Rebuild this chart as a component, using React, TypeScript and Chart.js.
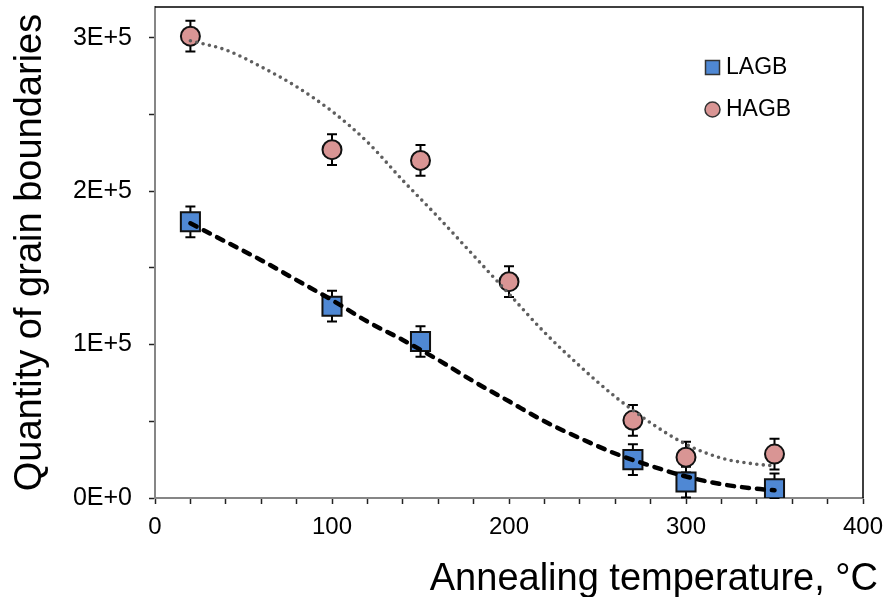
import React, { useEffect, useRef } from "react";
import { Chart, registerables } from "chart.js";

Chart.register(...registerables);

// Measured data
const lagbTemps = [20, 100, 150, 270, 300, 350];
const lagbValues = [180000, 125000, 102000, 25000, 10400, 6000];
const lagbErrors = [10000, 10000, 10000, 10000, 10000, 10000];

const hagbTemps = [20, 100, 150, 200, 270, 300, 350];
const hagbValues = [301000, 227000, 220000, 141000, 50600, 26600, 28600];
const hagbErrors = [10000, 10000, 10000, 10000, 10000, 10000, 10000];

// Trend lines
const trendTemps = [20, 40, 60, 80, 100, 120, 140, 160, 180, 200, 220, 240, 260, 280, 300, 320, 340, 350];
const hagbTrend = [298000, 292000, 281000, 268000, 252000, 232000, 207000, 183000, 158000, 133000, 108000, 86000, 66000, 49000, 35000, 26000, 22000, 21000];
const lagbTrend = [179000, 167000, 155000, 142000, 129000, 115000, 103000, 90000, 76000, 63000, 50000, 39000, 29000, 21000, 14000, 9000, 6000, 5000];

// Ticks (major labelled, minor unlabelled)
const xTickValues = [0, 20, 40, 60, 80, 100, 120, 140, 160, 180, 200, 220, 240, 260, 280, 300, 320, 340, 360, 380, 400];
const xTickLabels: Record<number, string> = { 0: "0", 100: "100", 200: "200", 300: "300", 400: "400" };
const yTickValues = [0, 50000, 100000, 150000, 200000, 250000, 300000];
const yTickLabels: Record<number, string> = { 0: "0E+0", 100000: "1E+5", 200000: "2E+5", 300000: "3E+5" };

const xTitle = "Annealing temperature, °C";
const yTitle = "Quantity of grain boundaries";
const legendLabels = ["LAGB", "HAGB"];

const FONT = '"Liberation Sans", Arial, sans-serif';
const BLUE = "#4F88D4";
const PINK = "#D99594";

export default function App() {
  const ref = useRef<HTMLCanvasElement>(null);

  useEffect(() => {
    if (!ref.current) return;
    Chart.defaults.font.family = FONT;

    const errorBars = {
      id: "errorBars",
      beforeDatasetsDraw(chart: any) {
        const ctx = chart.ctx;
        const xs = chart.scales.x;
        const ys = chart.scales.y;
        const sets = [
          { t: lagbTemps, v: lagbValues, e: lagbErrors },
          { t: hagbTemps, v: hagbValues, e: hagbErrors },
        ];
        ctx.save();
        ctx.strokeStyle = "#000";
        ctx.lineWidth = 2;
        for (const s of sets) {
          s.t.forEach((t, i) => {
            const x = xs.getPixelForValue(t);
            const y1 = ys.getPixelForValue(s.v[i] + s.e[i]);
            const y2 = ys.getPixelForValue(Math.max(0, s.v[i] - s.e[i]));
            ctx.beginPath();
            ctx.moveTo(x, y1);
            ctx.lineTo(x, y2);
            ctx.moveTo(x - 5, y1);
            ctx.lineTo(x + 5, y1);
            ctx.moveTo(x - 5, y2);
            ctx.lineTo(x + 5, y2);
            ctx.stroke();
          });
        }
        ctx.restore();
      },
    };

    const frame = {
      id: "frame",
      afterDraw(chart: any) {
        const ctx = chart.ctx;
        const a = chart.chartArea;
        ctx.save();
        ctx.strokeStyle = "#000";
        ctx.lineWidth = 1.5;
        ctx.beginPath();
        ctx.moveTo(a.left, a.top);
        ctx.lineTo(a.right, a.top);
        ctx.lineTo(a.right, a.bottom);
        ctx.stroke();

        // x title
        ctx.fillStyle = "#000";
        ctx.font = `38px ${FONT}`;
        ctx.textAlign = "right";
        ctx.textBaseline = "alphabetic";
        ctx.fillText(xTitle, 878, 590);

        // legend
        ctx.font = `23px ${FONT}`;
        ctx.textAlign = "left";
        ctx.textBaseline = "middle";
        ctx.lineWidth = 1.5;
        ctx.strokeStyle = "#333";
        ctx.fillStyle = BLUE;
        ctx.beginPath();
        ctx.rect(705.5, 60.5, 14, 14);
        ctx.fill();
        ctx.stroke();
        ctx.fillStyle = PINK;
        ctx.beginPath();
        ctx.arc(712.5, 109.5, 7.5, 0, Math.PI * 2);
        ctx.fill();
        ctx.stroke();
        ctx.fillStyle = "#000";
        ctx.fillText(legendLabels[0], 726, 68);
        ctx.fillText(legendLabels[1], 726, 110);
        ctx.restore();
      },
    };

    const chart = new Chart(ref.current, {
      type: "scatter",
      data: {
        datasets: [
          {
            label: "LAGB trend",
            data: trendTemps.map((t, i) => ({ x: t, y: lagbTrend[i] })),
            showLine: true,
            borderColor: "#000",
            borderWidth: 4.5,
            borderDash: [7, 8],
            borderCapStyle: "round",
            pointRadius: 0,
            cubicInterpolationMode: "monotone",
            order: 1,
          },
          {
            label: "HAGB trend",
            data: trendTemps.map((t, i) => ({ x: t, y: hagbTrend[i] })),
            showLine: true,
            borderColor: "#5e5e5e",
            borderWidth: 3.6,
            borderDash: [0, 6.5],
            borderCapStyle: "round",
            pointRadius: 0,
            cubicInterpolationMode: "monotone",
            order: 1,
          },
          {
            label: legendLabels[0],
            data: lagbTemps.map((t, i) => ({ x: t, y: lagbValues[i] })),
            pointStyle: "rect",
            pointRadius: 13.5,
            backgroundColor: BLUE,
            borderColor: "#111",
            borderWidth: 2,
            order: 2,
          },
          {
            label: legendLabels[1],
            data: hagbTemps.map((t, i) => ({ x: t, y: hagbValues[i] })),
            pointStyle: "circle",
            pointRadius: 9.5,
            backgroundColor: PINK,
            borderColor: "#111",
            borderWidth: 2,
            order: 2,
          },
        ],
      },
      options: {
        responsive: false,
        animation: false,
        events: [],
        layout: { autoPadding: false, padding: { top: 7, right: 22, left: 0, bottom: 0 } },
        plugins: {
          legend: { display: false },
          tooltip: { enabled: false },
        },
        scales: {
          x: {
            type: "linear",
            bounds: "data",
            min: 0,
            max: 400,
            afterBuildTicks: (s: any) => {
              s.ticks = xTickValues.map((v) => ({ value: v }));
            },
            afterFit: (s: any) => {
              s.height = 99;
              s.paddingLeft = 0;
              s.paddingRight = 0;
            },
            ticks: {
              autoSkip: false,
              maxRotation: 0,
              padding: 9,
              color: "#000",
              font: { size: 24 },
              callback: (v: any) => xTickLabels[Math.round(Number(v))] ?? "",
            },
            grid: {
              drawOnChartArea: false,
              drawTicks: true,
              tickLength: 6,
              tickColor: "#222",
              tickWidth: 1.5,
            },
            border: { display: true, color: "#868686", width: 2 },
            title: { display: false },
          },
          y: {
            type: "linear",
            bounds: "data",
            min: 0,
            max: 320000,
            afterBuildTicks: (s: any) => {
              s.ticks = yTickValues.map((v) => ({ value: v }));
            },
            afterFit: (s: any) => {
              s.width = 155;
              s.paddingTop = 0;
              s.paddingBottom = 0;
            },
            ticks: {
              autoSkip: false,
              padding: 17,
              color: "#000",
              font: { size: 25 },
              callback: (v: any) => yTickLabels[Math.round(Number(v))] ?? "",
            },
            grid: {
              drawOnChartArea: false,
              drawTicks: true,
              tickLength: 6,
              tickColor: "#222",
              tickWidth: 1.5,
            },
            border: { display: true, color: "#868686", width: 2 },
            title: {
              display: true,
              text: yTitle,
              color: "#000",
              font: { size: 38, lineHeight: 1 },
              padding: { top: 12, bottom: 0 },
            },
          },
        },
      },
      plugins: [errorBars, frame],
    } as any);

    return () => chart.destroy();
  }, []);

  return (
    <div style={{ position: "fixed", left: 0, top: 0, width: 885, height: 597, background: "#fff" }}>
      <canvas ref={ref} width={885} height={597} style={{ display: "block" }} />
    </div>
  );
}
